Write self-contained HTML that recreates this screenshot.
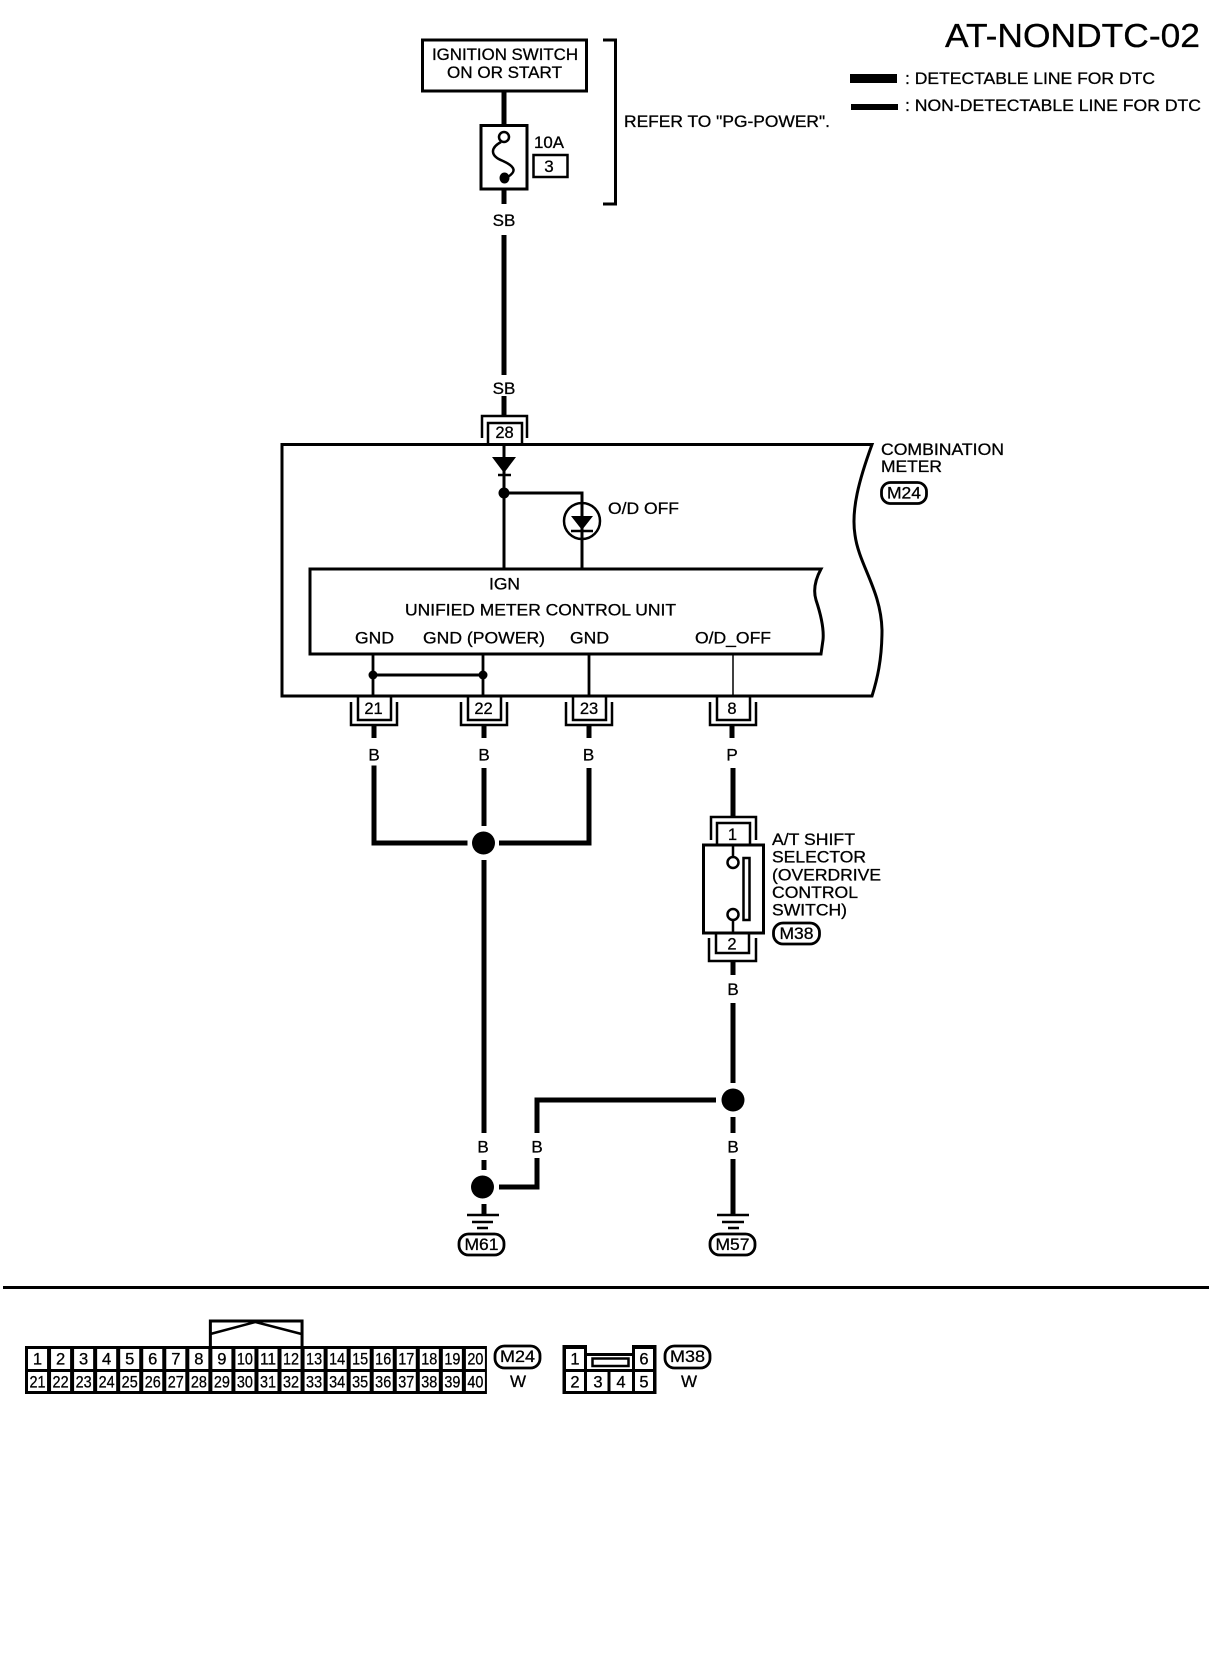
<!DOCTYPE html>
<html><head><meta charset="utf-8"><style>
html,body{margin:0;padding:0;background:#fff}
svg{display:block}
text{font-family:"Liberation Sans",sans-serif;font-size:17px;fill:#000;stroke:#000;stroke-width:.3px}
.m{text-anchor:middle}
.n{font-size:16.5px;text-anchor:middle}
</style></head><body>
<svg xmlns="http://www.w3.org/2000/svg" width="1216" height="1660" viewBox="0 0 1216 1660">
<rect width="1216" height="1660" fill="#fff"/>
<!-- header -->
<text x="945" y="47" style="font-size:33.5px" textLength="255" lengthAdjust="spacingAndGlyphs">AT-NONDTC-02</text>
<rect x="850" y="74" width="47" height="9"/>
<rect x="851" y="104" width="47" height="6"/>
<text x="905" y="84" textLength="250" lengthAdjust="spacingAndGlyphs">: DETECTABLE LINE FOR DTC</text>
<text x="905" y="111" textLength="296" lengthAdjust="spacingAndGlyphs">: NON-DETECTABLE LINE FOR DTC</text>
<!-- ignition -->
<rect x="422.500" y="40" width="164" height="51" fill="#fff" stroke="#000" stroke-width="3"/>
<text x="432" y="60" textLength="146" lengthAdjust="spacingAndGlyphs">IGNITION SWITCH</text>
<text x="447" y="78" textLength="115" lengthAdjust="spacingAndGlyphs">ON OR START</text>
<g fill="none" stroke="#000">
<path d="M504 91V126" stroke-width="5"/>
<rect x="481" y="125.500" width="46" height="63.500" stroke-width="3"/>
<path d="M501 142C490 148 490 156 503 161C516 167 517 172 506 178" stroke-width="2.500"/>
<circle cx="504" cy="137" r="5" stroke-width="2.500" fill="#fff"/>
<path d="M504 189V204" stroke-width="5"/>
<path d="M504 235V375" stroke-width="5"/>
<path d="M504 396V416" stroke-width="5"/>
<path d="M603 40H615.500V204H603" stroke-width="3"/>
<rect x="533.500" y="155" width="34" height="22" stroke-width="2.500"/>
</g>
<ellipse cx="504.500" cy="178" rx="5" ry="5.500"/>
<text x="549" y="148" class="m" textLength="30" lengthAdjust="spacingAndGlyphs">10A</text>
<text x="549" y="172" class="m">3</text>
<text x="504" y="226" class="m">SB</text>
<text x="504" y="394" class="m">SB</text>
<text x="624" y="127" textLength="206" lengthAdjust="spacingAndGlyphs">REFER TO "PG-POWER".</text>
<!-- meter -->
<path d="M282 444.500H872C859 480 851 510 855 535C859 565 881 590 882 630C882 660 877 680 872 696H282Z" fill="#fff" stroke="#000" stroke-width="3"/>
<text x="881" y="455" textLength="123" lengthAdjust="spacingAndGlyphs">COMBINATION</text>
<text x="881" y="472" textLength="61" lengthAdjust="spacingAndGlyphs">METER</text>
<g fill="none" stroke="#000" stroke-width="2.800">
<rect x="881.500" y="482.500" width="45" height="21" rx="9"/>
<rect x="773.500" y="923" width="46" height="21" rx="9.500"/>
<rect x="459" y="1234" width="45" height="21" rx="9.500"/>
<rect x="710" y="1234" width="45" height="21" rx="9.500"/>
<rect x="495" y="1346" width="45" height="22" rx="9.500"/>
<rect x="665" y="1346" width="45" height="22" rx="9.500"/>
</g>
<text x="904" y="498.500" class="m" textLength="34" lengthAdjust="spacingAndGlyphs">M24</text>
<text x="796.500" y="939" class="m" textLength="34" lengthAdjust="spacingAndGlyphs">M38</text>
<text x="481.500" y="1250" class="m" textLength="34" lengthAdjust="spacingAndGlyphs">M61</text>
<text x="732.500" y="1250" class="m" textLength="34" lengthAdjust="spacingAndGlyphs">M57</text>
<text x="517.500" y="1362" class="m" textLength="35" lengthAdjust="spacingAndGlyphs">M24</text>
<text x="687.500" y="1362" class="m" textLength="35" lengthAdjust="spacingAndGlyphs">M38</text>
<text x="518" y="1387" class="m">W</text>
<text x="689" y="1387" class="m">W</text>
<!-- conn 28 -->
<g fill="none" stroke="#000">
<path d="M482 438V416H527V438" stroke-width="2.500"/>
<path d="M488 444V423H522V444" stroke-width="2.500"/>
<path d="M504 444V569" stroke-width="3"/>
<path d="M504 493H582V569" stroke-width="3"/>
<circle cx="582" cy="521" r="18" stroke-width="2.500"/>
<path d="M498 475H511M571 531H593" stroke-width="2.500"/>
</g>
<text x="504.500" y="438" class="n">28</text>
<path d="M492 457H516L504 473Z"/>
<path d="M571 516H593L582 530Z"/>
<circle cx="504" cy="493" r="5.500"/>
<text x="608" y="514" textLength="71" lengthAdjust="spacingAndGlyphs">O/D OFF</text>
<!-- unit -->
<path d="M310 569H821C815 580 813 590 816 600C821 615 824 630 823 640L821 654H310Z" fill="#fff" stroke="#000" stroke-width="3"/>
<text x="489" y="589.500" textLength="31" lengthAdjust="spacingAndGlyphs">IGN</text>
<text x="405" y="615.500" textLength="271" lengthAdjust="spacingAndGlyphs">UNIFIED METER CONTROL UNIT</text>
<text x="355" y="643.500" textLength="39" lengthAdjust="spacingAndGlyphs">GND</text>
<text x="423" y="643.500" textLength="122" lengthAdjust="spacingAndGlyphs">GND (POWER)</text>
<text x="570" y="643.500" textLength="39" lengthAdjust="spacingAndGlyphs">GND</text>
<text x="695" y="643.500" textLength="76" lengthAdjust="spacingAndGlyphs">O/D_OFF</text>
<g fill="none" stroke="#000" stroke-width="2.500">
<path d="M373 654V696M483 654V696M589 654V696" stroke-width="2.800"/>
<path d="M733 654V696" stroke-width="1.500"/>
<path d="M373 675H483" stroke-width="3"/>
<path d="M351 702V725H397V702M358 696V720H391V696"/>
<path d="M461 702V725H507V702M468 696V720H501V696"/>
<path d="M566 702V725H612V702M573 696V720H606V696"/>
<path d="M710 702V725H756V702M717 696V720H750V696"/>
</g>
<circle cx="373" cy="675" r="4.500"/>
<circle cx="483" cy="675" r="4.500"/>
<text x="373.500" y="714" class="n">21</text>
<text x="483.500" y="714" class="n">22</text>
<text x="589" y="714" class="n">23</text>
<text x="732" y="714" class="n">8</text>
<!-- wires -->
<g fill="none" stroke="#000" stroke-width="5">
<path d="M374 725V738M484 725V738M589 725V738M732 725V738"/>
<path d="M465 843H374V768" stroke-linecap="square"/>
<path d="M484 768V826M484 860V1133M484 1160V1170M484 1204V1215"/>
<path d="M499 843H589V768"/>
<path d="M733 768V817M733 961V975M733 1003V1083M733 1117V1133M733 1159V1215"/>
<path d="M499 1187H537V1158M537 1133V1100H716"/>
</g>
<text x="374" y="760.500" class="m">B</text>
<text x="484" y="760.500" class="m">B</text>
<text x="588.500" y="760.500" class="m">B</text>
<text x="732" y="760.500" class="m">P</text>
<circle cx="483.500" cy="843" r="11.500"/>
<circle cx="482.500" cy="1187" r="11.500"/>
<circle cx="733" cy="1100" r="11.500"/>
<text x="483" y="1152.500" class="m">B</text>
<text x="537" y="1152.500" class="m">B</text>
<text x="733" y="1152.500" class="m">B</text>
<text x="733" y="995" class="m">B</text>
<!-- grounds -->
<g stroke="#000" stroke-width="2.500">
<path d="M467 1215H499M472 1222H493M477 1228H488"/>
<path d="M717 1215H749M722 1222H744M728 1228H739"/>
</g>
<!-- switch -->
<g fill="none" stroke="#000">
<path d="M711 840V817H756V840M717 845V823H750V845" stroke-width="2.500"/>
<rect x="703.500" y="845" width="60" height="88" stroke-width="3"/>
<path d="M733 845V857M733 920V933" stroke-width="2.500"/>
<circle cx="733" cy="862.500" r="5.500" stroke-width="2.500" fill="#fff"/>
<circle cx="733" cy="914.500" r="5.500" stroke-width="2.500" fill="#fff"/>
<rect x="743.500" y="858" width="6" height="62" stroke-width="2.500"/>
<path d="M709 938V961H756V938M716 933V953H749V933" stroke-width="2.500"/>
</g>
<text x="732.500" y="840" class="n">1</text>
<text x="732" y="949.500" class="n">2</text>
<text x="772" y="845" textLength="83" lengthAdjust="spacingAndGlyphs">A/T SHIFT</text>
<text x="772" y="862.500" textLength="94" lengthAdjust="spacingAndGlyphs">SELECTOR</text>
<text x="772" y="880.500" textLength="109" lengthAdjust="spacingAndGlyphs">(OVERDRIVE</text>
<text x="772" y="898" textLength="86" lengthAdjust="spacingAndGlyphs">CONTROL</text>
<text x="772" y="915.500" textLength="75" lengthAdjust="spacingAndGlyphs">SWITCH)</text>
<!-- rule -->
<rect x="3" y="1286" width="1206" height="3"/>
<!-- M24 connector -->
<g transform="translate(25 0) scale(1.002 1) translate(-25 0)">
<path d="M210 1347V1321H301.500V1347" fill="none" stroke="#000" stroke-width="3"/>
<path d="M210 1334L255 1322L301 1334" fill="none" stroke="#000" stroke-width="2.500"/>
<rect x="25" y="1346" width="461" height="48"/>
<g fill="#fff">
<rect x="28" y="1349" width="19" height="20"/><rect x="51" y="1349" width="19" height="20"/><rect x="74" y="1349" width="19" height="20"/><rect x="97" y="1349" width="19" height="20"/><rect x="120" y="1349" width="19" height="20"/><rect x="143" y="1349" width="19" height="20"/><rect x="166" y="1349" width="19" height="20"/><rect x="189" y="1349" width="19" height="20"/><rect x="212" y="1349" width="19" height="20"/><rect x="235" y="1349" width="19" height="20"/><rect x="258" y="1349" width="19" height="20"/><rect x="281" y="1349" width="19" height="20"/><rect x="304" y="1349" width="19" height="20"/><rect x="327" y="1349" width="19" height="20"/><rect x="350" y="1349" width="19" height="20"/><rect x="373" y="1349" width="19" height="20"/><rect x="396" y="1349" width="19" height="20"/><rect x="419" y="1349" width="19" height="20"/><rect x="442" y="1349" width="19" height="20"/><rect x="465" y="1349" width="19" height="20"/>
<rect x="28" y="1372" width="19" height="19"/><rect x="51" y="1372" width="19" height="19"/><rect x="74" y="1372" width="19" height="19"/><rect x="97" y="1372" width="19" height="19"/><rect x="120" y="1372" width="19" height="19"/><rect x="143" y="1372" width="19" height="19"/><rect x="166" y="1372" width="19" height="19"/><rect x="189" y="1372" width="19" height="19"/><rect x="212" y="1372" width="19" height="19"/><rect x="235" y="1372" width="19" height="19"/><rect x="258" y="1372" width="19" height="19"/><rect x="281" y="1372" width="19" height="19"/><rect x="304" y="1372" width="19" height="19"/><rect x="327" y="1372" width="19" height="19"/><rect x="350" y="1372" width="19" height="19"/><rect x="373" y="1372" width="19" height="19"/><rect x="396" y="1372" width="19" height="19"/><rect x="419" y="1372" width="19" height="19"/><rect x="442" y="1372" width="19" height="19"/><rect x="465" y="1372" width="19" height="19"/>
</g>
<text class="n" x="37.500" y="1364.500">1</text><text class="n" x="60.500" y="1364.500">2</text><text class="n" x="83.500" y="1364.500">3</text><text class="n" x="106.500" y="1364.500">4</text><text class="n" x="129.500" y="1364.500">5</text><text class="n" x="152.500" y="1364.500">6</text><text class="n" x="175.500" y="1364.500">7</text><text class="n" x="198.500" y="1364.500">8</text><text class="n" x="221.500" y="1364.500">9</text>
<text class="n" x="244.500" y="1364.500" textLength="16" lengthAdjust="spacingAndGlyphs">10</text><text class="n" x="267.500" y="1364.500" textLength="16" lengthAdjust="spacingAndGlyphs">11</text><text class="n" x="290.500" y="1364.500" textLength="16" lengthAdjust="spacingAndGlyphs">12</text><text class="n" x="313.500" y="1364.500" textLength="16" lengthAdjust="spacingAndGlyphs">13</text><text class="n" x="336.500" y="1364.500" textLength="16" lengthAdjust="spacingAndGlyphs">14</text><text class="n" x="359.500" y="1364.500" textLength="16" lengthAdjust="spacingAndGlyphs">15</text><text class="n" x="382.500" y="1364.500" textLength="16" lengthAdjust="spacingAndGlyphs">16</text><text class="n" x="405.500" y="1364.500" textLength="16" lengthAdjust="spacingAndGlyphs">17</text><text class="n" x="428.500" y="1364.500" textLength="16" lengthAdjust="spacingAndGlyphs">18</text><text class="n" x="451.500" y="1364.500" textLength="16" lengthAdjust="spacingAndGlyphs">19</text><text class="n" x="474.500" y="1364.500" textLength="16" lengthAdjust="spacingAndGlyphs">20</text>
<text class="n" x="37.500" y="1387.500" textLength="16" lengthAdjust="spacingAndGlyphs">21</text><text class="n" x="60.500" y="1387.500" textLength="16" lengthAdjust="spacingAndGlyphs">22</text><text class="n" x="83.500" y="1387.500" textLength="16" lengthAdjust="spacingAndGlyphs">23</text><text class="n" x="106.500" y="1387.500" textLength="16" lengthAdjust="spacingAndGlyphs">24</text><text class="n" x="129.500" y="1387.500" textLength="16" lengthAdjust="spacingAndGlyphs">25</text><text class="n" x="152.500" y="1387.500" textLength="16" lengthAdjust="spacingAndGlyphs">26</text><text class="n" x="175.500" y="1387.500" textLength="16" lengthAdjust="spacingAndGlyphs">27</text><text class="n" x="198.500" y="1387.500" textLength="16" lengthAdjust="spacingAndGlyphs">28</text><text class="n" x="221.500" y="1387.500" textLength="16" lengthAdjust="spacingAndGlyphs">29</text><text class="n" x="244.500" y="1387.500" textLength="16" lengthAdjust="spacingAndGlyphs">30</text><text class="n" x="267.500" y="1387.500" textLength="16" lengthAdjust="spacingAndGlyphs">31</text><text class="n" x="290.500" y="1387.500" textLength="16" lengthAdjust="spacingAndGlyphs">32</text><text class="n" x="313.500" y="1387.500" textLength="16" lengthAdjust="spacingAndGlyphs">33</text><text class="n" x="336.500" y="1387.500" textLength="16" lengthAdjust="spacingAndGlyphs">34</text><text class="n" x="359.500" y="1387.500" textLength="16" lengthAdjust="spacingAndGlyphs">35</text><text class="n" x="382.500" y="1387.500" textLength="16" lengthAdjust="spacingAndGlyphs">36</text><text class="n" x="405.500" y="1387.500" textLength="16" lengthAdjust="spacingAndGlyphs">37</text><text class="n" x="428.500" y="1387.500" textLength="16" lengthAdjust="spacingAndGlyphs">38</text><text class="n" x="451.500" y="1387.500" textLength="16" lengthAdjust="spacingAndGlyphs">39</text><text class="n" x="474.500" y="1387.500" textLength="16" lengthAdjust="spacingAndGlyphs">40</text>
</g>
<!-- M38 connector -->
<path d="M562.500 1345H587V1353H632V1345H656.500V1394H562.500Z"/>
<g fill="#fff">
<rect x="566" y="1349" width="18" height="20"/>
<rect x="587" y="1356" width="45" height="13"/>
<rect x="635" y="1349" width="18" height="20"/>
<rect x="566" y="1372" width="18" height="19"/>
<rect x="587" y="1372" width="20.500" height="19"/>
<rect x="610.500" y="1372" width="21.500" height="19"/>
<rect x="635" y="1372" width="18" height="19"/>
</g>
<rect x="592.500" y="1358.500" width="36" height="7.500" fill="none" stroke="#000" stroke-width="2.500"/>
<text class="n" x="575" y="1364.500">1</text><text class="n" x="644" y="1364.500">6</text>
<text class="n" x="575" y="1387.500">2</text><text class="n" x="598" y="1387.500">3</text><text class="n" x="621" y="1387.500">4</text><text class="n" x="644" y="1387.500">5</text>
</svg>
</body></html>
